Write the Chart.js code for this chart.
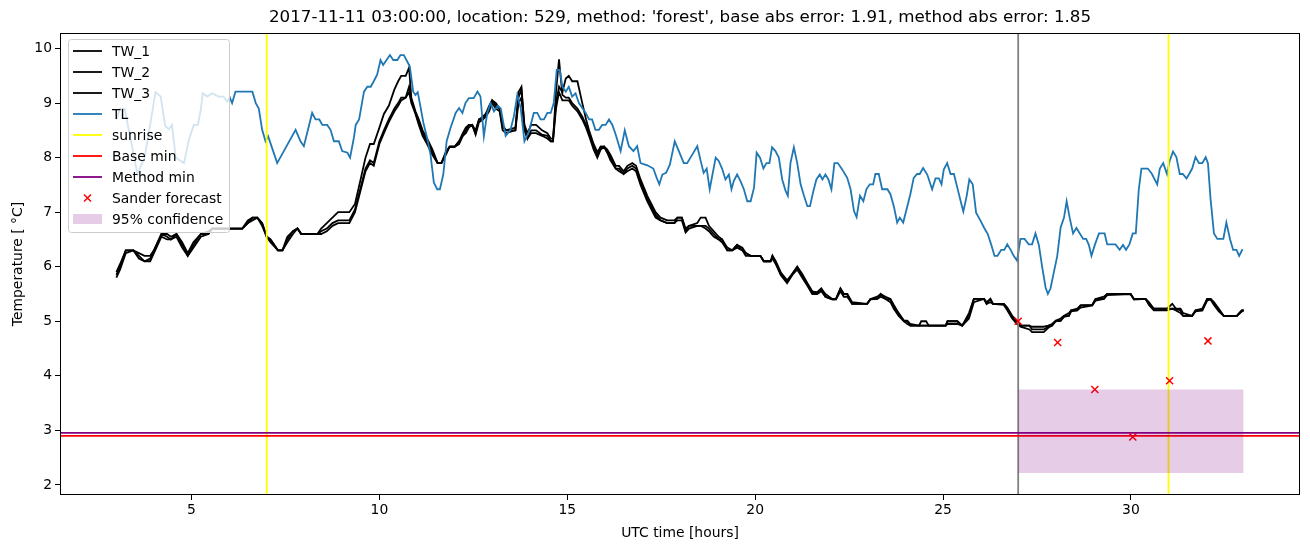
<!DOCTYPE html>
<html>
<head>
<meta charset="utf-8">
<script src="https://cdn.jsdelivr.net/npm/chart.js@4.4.1/dist/chart.umd.min.js"></script>
<style>
  html, body { margin: 0; padding: 0; background: #fff; }
  #wrap { width: 1310px; height: 547px; }
</style>
</head>
<body>
<div id="wrap"><canvas id="chart" width="1310" height="547"></canvas></div>
<script>
// ---- data: [hour, temperature] ----
const titleText = "2017-11-11 03:00:00, location: 529, method: 'forest', base abs error: 1.91, method abs error: 1.85";
const xTicks = [5, 10, 15, 20, 25, 30];
const yTicks = [2, 3, 4, 5, 6, 7, 8, 9, 10];

const tw1 = [[3.0,5.85],[3.1,6.0],[3.25,6.3],[3.45,6.3],[3.6,6.2],[3.75,6.1],[3.9,6.15],[4.0,6.3],[4.2,6.6],[4.35,6.55],[4.45,6.5],[4.6,6.6],[4.75,6.4],[4.9,6.2],[5.05,6.4],[5.25,6.6],[5.45,6.6],[5.55,6.7],[6.35,6.7],[6.5,6.8],[6.62,6.9],[6.75,6.9],[6.88,6.8],[7.0,6.55],[7.1,6.5],[7.3,6.3],[7.42,6.3],[7.55,6.5],[7.7,6.65],[7.82,6.7],[7.92,6.6],[8.35,6.6],[8.45,6.65],[8.6,6.7],[8.75,6.8],[8.9,6.85],[9.2,6.85],[9.35,7.05],[9.5,7.45],[9.63,7.8],[9.75,7.95],[9.85,7.9],[10.0,8.3],[10.12,8.5],[10.25,8.7],[10.4,8.9],[10.5,9.0],[10.58,9.1],[10.7,9.1],[10.79,9.3],[10.85,9.05],[10.96,8.82],[11.05,8.65],[11.15,8.45],[11.27,8.3],[11.41,8.1],[11.55,7.9],[11.65,7.9],[11.77,8.1],[11.87,8.2],[12.0,8.2],[12.12,8.3],[12.22,8.4],[12.3,8.5],[12.38,8.6],[12.47,8.6],[12.56,8.45],[12.65,8.7],[12.75,8.7],[12.83,8.8],[12.92,8.9],[13.0,9.05],[13.1,8.95],[13.2,8.9],[13.28,8.55],[13.37,8.5],[13.62,8.5],[13.7,9.2],[13.78,9.3],[13.86,8.55],[13.94,8.35],[14.04,8.5],[14.17,8.5],[14.33,8.42],[14.47,8.4],[14.56,8.3],[14.62,8.3],[14.7,9.2],[14.78,9.8],[14.87,9.15],[14.96,9.1],[15.04,9.1],[15.13,9.0],[15.27,8.9],[15.4,8.75],[15.5,8.6],[15.58,8.45],[15.7,8.2],[15.8,8.05],[15.89,8.2],[15.98,8.2],[16.06,8.1],[16.15,8.0],[16.29,7.8],[16.38,7.8],[16.5,7.7],[16.6,7.8],[16.73,7.85],[16.83,7.8],[16.95,7.55],[17.13,7.25],[17.35,6.95],[17.48,6.85],[17.66,6.8],[17.85,6.8],[17.93,6.9],[18.05,6.9],[18.15,6.65],[18.24,6.75],[18.46,6.75],[18.55,6.75],[18.68,6.75],[18.77,6.7],[18.9,6.6],[19.03,6.5],[19.12,6.5],[19.26,6.3],[19.39,6.3],[19.52,6.4],[19.66,6.3],[19.75,6.25],[19.88,6.2],[20.14,6.2],[20.23,6.1],[20.41,6.1],[20.46,6.2],[20.55,6.05],[20.68,5.87],[20.85,5.72],[20.99,5.87],[21.12,6.0],[21.25,5.84],[21.39,5.69],[21.52,5.53],[21.65,5.53],[21.76,5.6],[21.87,5.45],[22.05,5.4],[22.15,5.4],[22.27,5.6],[22.36,5.5],[22.45,5.5],[22.58,5.32],[22.98,5.32],[23.07,5.41],[23.25,5.41],[23.34,5.5],[23.47,5.41],[23.6,5.4],[23.69,5.26],[23.82,5.14],[23.96,5.01],[24.05,5.0],[24.13,4.92],[24.36,4.92],[24.42,4.92],[24.55,4.92],[24.62,4.92],[25.07,4.92],[25.12,5.0],[25.38,5.0],[25.51,4.92],[25.69,5.1],[25.82,5.41],[26.09,5.41],[26.16,5.32],[26.26,5.41],[26.33,5.32],[26.62,5.32],[26.71,5.23],[26.84,5.08],[26.97,4.99],[27.06,4.92],[27.3,4.92],[27.37,4.85],[27.68,4.85],[27.8,4.9],[27.9,4.92],[28.0,5.01],[28.13,5.01],[28.22,5.1],[28.35,5.1],[28.41,5.2],[28.57,5.2],[28.66,5.29],[28.97,5.29],[29.06,5.41],[29.28,5.41],[29.37,5.5],[29.99,5.5],[30.08,5.41],[30.39,5.41],[30.48,5.32],[30.61,5.23],[30.96,5.23],[31.1,5.32],[31.2,5.23],[31.32,5.2],[31.39,5.1],[31.63,5.1],[31.72,5.2],[31.9,5.2],[32.03,5.41],[32.12,5.41],[32.21,5.32],[32.34,5.2],[32.47,5.1],[32.82,5.1],[32.95,5.2],[33.0,5.2]];

const tw2 = [[3.0,5.9],[3.1,6.05],[3.25,6.3],[3.45,6.3],[3.6,6.25],[3.75,6.2],[3.9,6.2],[4.0,6.3],[4.2,6.6],[4.35,6.6],[4.45,6.55],[4.6,6.6],[4.75,6.45],[4.9,6.25],[5.05,6.45],[5.25,6.6],[5.45,6.65],[5.55,6.7],[6.35,6.7],[6.5,6.85],[6.62,6.9],[6.75,6.9],[6.88,6.8],[7.0,6.55],[7.1,6.5],[7.3,6.3],[7.42,6.3],[7.55,6.55],[7.7,6.65],[7.82,6.7],[7.92,6.6],[8.35,6.6],[8.45,6.7],[8.6,6.8],[8.75,6.9],[8.9,7.0],[9.2,7.0],[9.35,7.15],[9.5,7.6],[9.63,8.0],[9.75,8.25],[9.85,8.25],[10.0,8.55],[10.12,8.8],[10.25,8.95],[10.4,9.25],[10.5,9.4],[10.58,9.5],[10.7,9.5],[10.79,9.65],[10.85,9.1],[10.96,8.85],[11.05,8.7],[11.15,8.5],[11.27,8.35],[11.41,8.15],[11.55,7.9],[11.65,7.9],[11.77,8.1],[11.87,8.2],[12.0,8.2],[12.12,8.3],[12.22,8.45],[12.3,8.55],[12.38,8.6],[12.47,8.6],[12.56,8.5],[12.65,8.7],[12.75,8.75],[12.83,8.8],[12.92,8.95],[13.0,9.05],[13.1,9.0],[13.2,8.9],[13.28,8.6],[13.37,8.5],[13.62,8.55],[13.7,9.1],[13.78,9.25],[13.86,8.6],[13.94,8.45],[14.04,8.6],[14.17,8.6],[14.33,8.5],[14.47,8.45],[14.56,8.35],[14.62,8.35],[14.7,9.0],[14.78,9.3],[14.87,9.2],[14.96,9.45],[15.04,9.5],[15.13,9.4],[15.27,9.4],[15.4,9.0],[15.5,8.7],[15.58,8.5],[15.7,8.25],[15.8,8.1],[15.89,8.2],[15.98,8.2],[16.06,8.15],[16.15,8.05],[16.29,7.85],[16.38,7.85],[16.5,7.75],[16.6,7.85],[16.73,7.9],[16.83,7.85],[16.95,7.6],[17.13,7.3],[17.35,7.0],[17.48,6.9],[17.66,6.85],[17.85,6.85],[17.93,6.9],[18.05,6.9],[18.15,6.7],[18.24,6.75],[18.46,6.8],[18.55,6.9],[18.68,6.9],[18.77,6.75],[18.9,6.65],[19.03,6.55],[19.12,6.5],[19.26,6.35],[19.39,6.3],[19.52,6.4],[19.66,6.35],[19.75,6.25],[19.88,6.2],[20.14,6.2],[20.23,6.1],[20.41,6.1],[20.46,6.2],[20.55,6.1],[20.68,5.9],[20.85,5.75],[20.99,5.87],[21.12,6.0],[21.25,5.87],[21.39,5.7],[21.52,5.55],[21.65,5.53],[21.76,5.6],[21.87,5.5],[22.05,5.41],[22.15,5.41],[22.27,5.6],[22.36,5.5],[22.45,5.5],[22.58,5.35],[22.98,5.32],[23.07,5.41],[23.25,5.45],[23.34,5.5],[23.47,5.45],[23.6,5.41],[23.69,5.3],[23.82,5.15],[23.96,5.01],[24.05,5.01],[24.13,4.95],[24.36,4.92],[24.42,5.0],[24.55,5.0],[24.62,4.92],[25.07,4.92],[25.12,5.0],[25.38,5.0],[25.51,4.92],[25.69,5.15],[25.82,5.41],[26.09,5.41],[26.16,5.35],[26.26,5.41],[26.33,5.32],[26.62,5.32],[26.71,5.25],[26.84,5.1],[26.97,5.0],[27.06,4.92],[27.3,4.92],[27.37,4.9],[27.68,4.9],[27.8,4.92],[27.9,4.95],[28.0,5.01],[28.13,5.05],[28.22,5.1],[28.35,5.15],[28.41,5.2],[28.57,5.23],[28.66,5.29],[28.97,5.3],[29.06,5.41],[29.28,5.45],[29.37,5.5],[29.99,5.5],[30.08,5.41],[30.39,5.41],[30.48,5.35],[30.61,5.23],[30.96,5.23],[31.1,5.23],[31.2,5.23],[31.32,5.23],[31.39,5.15],[31.63,5.1],[31.72,5.2],[31.9,5.23],[32.03,5.41],[32.12,5.41],[32.21,5.35],[32.34,5.23],[32.47,5.1],[32.82,5.1],[32.95,5.2],[33.0,5.2]];

const tw3 = [[3.0,5.8],[3.1,5.95],[3.25,6.25],[3.45,6.3],[3.6,6.15],[3.75,6.1],[3.9,6.1],[4.0,6.25],[4.2,6.55],[4.35,6.5],[4.45,6.5],[4.6,6.55],[4.75,6.35],[4.9,6.2],[5.05,6.35],[5.25,6.55],[5.45,6.6],[5.55,6.7],[6.35,6.7],[6.5,6.8],[6.62,6.85],[6.75,6.9],[6.88,6.75],[7.0,6.55],[7.1,6.45],[7.3,6.3],[7.42,6.3],[7.55,6.45],[7.7,6.6],[7.82,6.7],[7.92,6.6],[8.35,6.6],[8.45,6.6],[8.6,6.65],[8.75,6.75],[8.9,6.8],[9.2,6.8],[9.35,7.0],[9.5,7.4],[9.63,7.75],[9.75,7.9],[9.85,7.85],[10.0,8.25],[10.12,8.45],[10.25,8.65],[10.4,8.85],[10.5,8.95],[10.58,9.05],[10.7,9.1],[10.79,9.2],[10.85,9.0],[10.96,8.8],[11.05,8.6],[11.15,8.4],[11.27,8.25],[11.41,8.05],[11.55,7.9],[11.65,7.9],[11.77,8.05],[11.87,8.2],[12.0,8.2],[12.12,8.25],[12.22,8.4],[12.3,8.45],[12.38,8.55],[12.47,8.6],[12.56,8.42],[12.65,8.65],[12.75,8.7],[12.83,8.75],[12.92,8.85],[13.0,9.0],[13.1,8.9],[13.2,8.85],[13.28,8.5],[13.37,8.45],[13.62,8.5],[13.7,9.0],[13.78,9.1],[13.86,8.5],[13.94,8.35],[14.04,8.45],[14.17,8.45],[14.33,8.4],[14.47,8.35],[14.56,8.3],[14.62,8.3],[14.7,8.9],[14.78,9.2],[14.87,9.05],[14.96,9.05],[15.04,9.05],[15.13,8.95],[15.27,8.85],[15.4,8.7],[15.5,8.55],[15.58,8.4],[15.7,8.15],[15.8,8.0],[15.89,8.15],[15.98,8.2],[16.06,8.1],[16.15,7.95],[16.29,7.8],[16.38,7.75],[16.5,7.7],[16.6,7.75],[16.73,7.8],[16.83,7.75],[16.95,7.5],[17.13,7.2],[17.35,6.9],[17.48,6.85],[17.66,6.8],[17.85,6.8],[17.93,6.85],[18.05,6.85],[18.15,6.63],[18.24,6.7],[18.46,6.75],[18.55,6.75],[18.68,6.7],[18.77,6.65],[18.9,6.55],[19.03,6.5],[19.12,6.45],[19.26,6.3],[19.39,6.3],[19.52,6.35],[19.66,6.3],[19.75,6.2],[19.88,6.2],[20.14,6.2],[20.23,6.1],[20.41,6.1],[20.46,6.15],[20.55,6.05],[20.68,5.85],[20.85,5.7],[20.99,5.85],[21.12,5.95],[21.25,5.8],[21.39,5.65],[21.52,5.5],[21.65,5.5],[21.76,5.55],[21.87,5.45],[22.05,5.4],[22.15,5.4],[22.27,5.55],[22.36,5.45],[22.45,5.45],[22.58,5.32],[22.98,5.32],[23.07,5.4],[23.25,5.41],[23.34,5.45],[23.47,5.41],[23.6,5.35],[23.69,5.23],[23.82,5.1],[23.96,5.0],[24.05,4.95],[24.13,4.92],[24.36,4.92],[24.42,4.92],[24.55,4.92],[24.62,4.92],[25.07,4.92],[25.12,4.95],[25.38,4.95],[25.51,4.92],[25.69,5.05],[25.82,5.35],[26.09,5.41],[26.16,5.32],[26.26,5.35],[26.33,5.32],[26.62,5.3],[26.71,5.2],[26.84,5.05],[26.97,4.95],[27.06,4.9],[27.3,4.85],[27.37,4.8],[27.68,4.8],[27.8,4.88],[27.9,4.92],[28.0,5.0],[28.13,5.01],[28.22,5.08],[28.35,5.1],[28.41,5.18],[28.57,5.2],[28.66,5.25],[28.97,5.29],[29.06,5.38],[29.28,5.41],[29.37,5.48],[29.99,5.5],[30.08,5.4],[30.39,5.41],[30.48,5.3],[30.61,5.2],[30.96,5.2],[31.1,5.23],[31.2,5.2],[31.32,5.15],[31.39,5.1],[31.63,5.1],[31.72,5.18],[31.9,5.2],[32.03,5.38],[32.12,5.4],[32.21,5.3],[32.34,5.18],[32.47,5.1],[32.82,5.1],[32.95,5.18],[33.0,5.2]];

const tl = [[3.0,8.7],[3.1,8.9],[3.22,8.9],[3.56,7.7],[3.75,8.0],[3.9,8.6],[4.04,9.2],[4.18,9.12],[4.3,8.58],[4.4,8.52],[4.48,8.6],[4.58,8.0],[4.8,7.9],[4.92,8.3],[5.06,8.6],[5.17,8.6],[5.24,8.85],[5.3,9.18],[5.42,9.12],[5.55,9.18],[5.72,9.12],[5.85,9.12],[5.95,9.03],[6.02,9.1],[6.08,9.0],[6.17,9.21],[6.62,9.21],[6.71,9.0],[6.79,8.9],[6.88,8.51],[6.97,8.3],[7.04,8.39],[7.28,7.9],[7.77,8.51],[7.9,8.3],[7.99,8.21],[8.21,8.82],[8.3,8.7],[8.4,8.7],[8.48,8.6],[8.61,8.6],[8.7,8.51],[8.79,8.3],[8.92,8.3],[9.01,8.12],[9.15,8.09],[9.22,8.0],[9.32,8.36],[9.37,8.6],[9.46,8.7],[9.59,9.21],[9.68,9.3],[9.77,9.3],[9.85,9.4],[9.94,9.52],[10.03,9.79],[10.1,9.7],[10.19,9.79],[10.28,9.88],[10.37,9.79],[10.48,9.79],[10.56,9.88],[10.65,9.88],[10.72,9.79],[10.81,9.67],[10.9,9.21],[10.96,9.15],[11.02,9.2],[11.1,8.91],[11.17,8.64],[11.27,8.36],[11.36,8.06],[11.45,7.54],[11.54,7.42],[11.61,7.42],[11.7,7.69],[11.79,8.3],[11.89,8.54],[12.03,8.82],[12.12,8.91],[12.21,8.82],[12.29,9.0],[12.38,9.09],[12.51,9.09],[12.61,9.21],[12.69,9.12],[12.78,8.39],[12.87,8.82],[12.96,9.0],[13.05,8.85],[13.15,8.95],[13.23,8.9],[13.36,8.4],[13.49,8.51],[13.58,8.76],[13.67,9.15],[13.76,8.91],[13.86,8.3],[13.98,8.48],[14.11,8.82],[14.2,8.82],[14.29,8.7],[14.38,8.7],[14.47,8.82],[14.56,8.82],[14.64,9.0],[14.72,9.61],[14.8,9.61],[14.87,9.3],[14.96,9.21],[15.04,9.3],[15.13,9.12],[15.22,9.18],[15.31,9.0],[15.4,8.91],[15.49,8.82],[15.58,8.7],[15.66,8.7],[15.75,8.51],[15.84,8.51],[15.93,8.6],[16.02,8.6],[16.11,8.7],[16.2,8.6],[16.29,8.42],[16.42,8.12],[16.53,8.5],[16.64,8.21],[16.76,8.12],[16.86,8.21],[16.95,7.9],[17.13,7.86],[17.29,7.8],[17.38,7.63],[17.45,7.51],[17.53,7.69],[17.63,7.72],[17.73,7.87],[17.86,8.3],[17.97,8.12],[18.1,7.9],[18.19,7.9],[18.33,8.06],[18.46,8.21],[18.55,7.94],[18.63,7.72],[18.71,7.8],[18.79,7.42],[18.95,8.0],[19.03,7.94],[19.12,7.8],[19.21,7.6],[19.3,7.69],[19.37,7.42],[19.43,7.57],[19.52,7.69],[19.61,7.57],[19.7,7.42],[19.79,7.2],[19.88,7.2],[19.97,7.45],[20.04,8.09],[20.13,8.0],[20.22,7.8],[20.3,7.9],[20.38,7.9],[20.45,8.19],[20.54,8.12],[20.63,8.0],[20.72,7.6],[20.81,7.39],[20.87,7.3],[20.94,7.9],[21.03,8.19],[21.12,7.9],[21.21,7.51],[21.3,7.3],[21.39,7.11],[21.46,7.11],[21.55,7.39],[21.63,7.6],[21.72,7.69],[21.79,7.6],[21.87,7.69],[21.95,7.6],[22.03,7.42],[22.11,7.9],[22.2,7.9],[22.32,7.78],[22.45,7.63],[22.54,7.42],[22.63,7.02],[22.7,6.91],[22.79,7.3],[22.88,7.2],[22.96,7.42],[23.05,7.51],[23.14,7.51],[23.2,7.7],[23.29,7.7],[23.38,7.42],[23.52,7.42],[23.6,7.33],[23.69,7.11],[23.78,6.81],[23.85,6.9],[23.94,6.81],[24.05,7.11],[24.13,7.33],[24.22,7.63],[24.31,7.7],[24.38,7.7],[24.47,7.81],[24.58,7.69],[24.71,7.42],[24.8,7.62],[24.89,7.62],[24.96,7.51],[25.02,7.78],[25.11,7.9],[25.2,7.7],[25.29,7.7],[25.38,7.45],[25.47,7.2],[25.54,7.01],[25.63,7.3],[25.7,7.6],[25.79,7.51],[25.88,6.99],[26.0,6.84],[26.09,6.72],[26.19,6.6],[26.28,6.41],[26.37,6.2],[26.45,6.2],[26.55,6.31],[26.63,6.31],[26.71,6.41],[26.8,6.31],[26.88,6.2],[26.97,6.11],[27.06,6.51],[27.17,6.51],[27.28,6.41],[27.37,6.41],[27.46,6.61],[27.55,6.4],[27.64,5.99],[27.73,5.62],[27.79,5.5],[27.86,5.6],[27.95,5.9],[28.04,6.2],[28.13,6.72],[28.22,6.9],[28.29,7.2],[28.37,6.9],[28.46,6.61],[28.55,6.71],[28.64,6.61],[28.73,6.51],[28.81,6.51],[28.88,6.4],[28.95,6.2],[29.04,6.4],[29.15,6.61],[29.3,6.61],[29.37,6.41],[29.59,6.41],[29.7,6.31],[29.79,6.4],[29.87,6.31],[29.96,6.41],[30.05,6.61],[30.13,6.61],[30.21,7.42],[30.28,7.8],[30.45,7.8],[30.56,7.7],[30.7,7.51],[30.77,7.8],[30.86,7.9],[30.96,7.7],[31.03,7.94],[31.12,8.11],[31.21,8.01],[31.3,7.7],[31.38,7.7],[31.48,7.62],[31.55,7.7],[31.63,7.8],[31.72,8.01],[31.81,7.9],[31.9,7.9],[31.99,8.01],[32.05,7.9],[32.12,7.24],[32.21,6.61],[32.3,6.51],[32.46,6.51],[32.54,6.81],[32.64,6.5],[32.72,6.31],[32.81,6.31],[32.88,6.2],[32.97,6.32]];

const sanderForecast = [[27.0,5.0],[28.05,4.61],[29.04,3.75],[30.05,2.88],[31.03,3.91],[32.05,4.64]];
const sunriseHours = [7.0, 31.0];
const forecastStart = 27.0;
const baseMin = 2.90;
const methodMin = 2.955;
const confStart = 27.0, confEnd = 33.0, confLow = 2.22, confHigh = 3.75;

const xMin = 1.5, xMax = 34.5, yMin = 1.815, yMax = 10.285;

const FONT = '"DejaVu Sans", sans-serif';
const pts = arr => arr.map(([x, y]) => ({x: x, y: y}));

function vline(hours) {
    const out = [];
    hours.forEach((h, i) => {
        if (i > 0) out.push({x: h, y: null});
        out.push({x: h, y: yMin}, {x: h, y: yMax});
    });
    return out;
}

const datasets = [
    {label: 'TW_1', data: pts(tw1), borderColor: '#000', borderWidth: 1.8, order: 9, kind: 'line'},
    {label: 'TW_2', data: pts(tw2), borderColor: '#000', borderWidth: 1.8, order: 8, kind: 'line'},
    {label: 'TW_3', data: pts(tw3), borderColor: '#000', borderWidth: 1.8, order: 7, kind: 'line'},
    {label: 'TL', data: pts(tl), borderColor: '#1f77b4', borderWidth: 1.8, order: 6, kind: 'line'},
    {label: 'sunrise', data: vline(sunriseHours), borderColor: '#ffff00', borderWidth: 1.8, order: 5, kind: 'line', spanGaps: false},
    {label: '', data: vline([forecastStart]), borderColor: '#808080', borderWidth: 1.8, order: 5, kind: 'none'},
    {label: 'Base min', data: pts([[xMin, baseMin], [xMax, baseMin]]), borderColor: '#ff0000', borderWidth: 1.8, order: 4, kind: 'line'},
    {label: 'Method min', data: pts([[xMin, methodMin], [xMax, methodMin]]), borderColor: '#800080', borderWidth: 1.8, order: 3, kind: 'line'},
    {label: 'Sander forecast', data: pts(sanderForecast), showLine: false, pointStyle: 'crossRot', pointRadius: 5,
     pointBorderColor: '#ff0000', pointBorderWidth: 1.5, borderColor: '#ff0000', order: 2, kind: 'marker'},
    {label: '95% confidence', data: pts([[confStart, confHigh], [confEnd, confHigh]]), borderWidth: 0, borderColor: 'rgba(0,0,0,0)',
     backgroundColor: 'rgba(128,0,128,0.2)', fill: {value: confLow}, order: 1, kind: 'patch'}
];

// title centred over the axes, like matplotlib
const titlePlugin = {
    id: 'axTitle',
    afterDraw(chart) {
        const {ctx, chartArea} = chart;
        ctx.save();
        ctx.font = '16.7px ' + FONT;
        ctx.fillStyle = '#000';
        ctx.textAlign = 'center';
        ctx.textBaseline = 'middle';
        ctx.fillText(titleText, (chartArea.left + chartArea.right) / 2, 18);
        ctx.restore();
    }
};

// four spines
const framePlugin = {
    id: 'frame',
    afterDatasetsDraw(chart) {
        const {ctx, chartArea: a} = chart;
        ctx.save();
        ctx.strokeStyle = '#000';
        ctx.lineWidth = 1;
        ctx.strokeRect(a.left + 0.5, a.top + 0.5, a.right - a.left - 1, a.bottom - a.top - 1);
        ctx.restore();
    }
};

// matplotlib-like legend inside the axes, upper left
const legendPlugin = {
    id: 'mplLegend',
    afterDatasetsDraw(chart) {
        const {ctx, chartArea: a} = chart;
        const items = chart.data.datasets.filter(d => d.kind !== 'none');
        const x0 = a.left + 8, y0 = a.top + 6, w = 161, rowH = 21;
        const h = items.length * rowH + 4;
        ctx.save();
        ctx.beginPath();
        if (ctx.roundRect) ctx.roundRect(x0 + 0.5, y0 + 0.5, w, h, 3); else ctx.rect(x0 + 0.5, y0 + 0.5, w, h);
        ctx.fillStyle = 'rgba(255,255,255,0.8)';
        ctx.fill();
        ctx.strokeStyle = '#cccccc';
        ctx.lineWidth = 1;
        ctx.stroke();
        ctx.font = '13.9px ' + FONT;
        ctx.textBaseline = 'middle';
        ctx.textAlign = 'left';
        items.forEach((d, i) => {
            const cy = y0 + 12 + i * rowH;
            const hx0 = x0 + 5, hx1 = x0 + 34;
            if (d.kind === 'line') {
                ctx.strokeStyle = d.borderColor;
                ctx.lineWidth = 1.8;
                ctx.beginPath(); ctx.moveTo(hx0, cy); ctx.lineTo(hx1, cy); ctx.stroke();
            } else if (d.kind === 'marker') {
                const cx = (hx0 + hx1) / 2, r = 3.5;
                ctx.strokeStyle = d.pointBorderColor;
                ctx.lineWidth = 1.5;
                ctx.beginPath();
                ctx.moveTo(cx - r, cy - r); ctx.lineTo(cx + r, cy + r);
                ctx.moveTo(cx + r, cy - r); ctx.lineTo(cx - r, cy + r);
                ctx.stroke();
            } else if (d.kind === 'patch') {
                ctx.fillStyle = d.backgroundColor;
                ctx.fillRect(hx0, cy - 5, hx1 - hx0, 10);
            }
            ctx.fillStyle = '#000';
            ctx.fillText(d.label, x0 + 44, cy + 1);
        });
        ctx.restore();
    }
};

new Chart(document.getElementById('chart'), {
    type: 'line',
    data: {datasets: datasets},
    options: {
        responsive: false,
        animation: false,
        parsing: true,
        elements: {point: {radius: 0}, line: {tension: 0}},
        layout: {padding: {top: 33, right: 10, left: 0, bottom: 0}},
        plugins: {legend: {display: false}, tooltip: {enabled: false}, title: {display: false}},
        scales: {
            x: {
                type: 'linear', min: xMin, max: xMax,
                afterBuildTicks: s => { s.ticks = xTicks.map(v => ({value: v})); },
                afterFit: s => { s.height = 52; },
                grid: {drawOnChartArea: false, drawTicks: true, tickLength: 5, color: '#000'},
                border: {display: false},
                ticks: {color: '#000', font: {family: FONT, size: 13.9}, padding: 2, maxRotation: 0},
                title: {display: true, text: 'UTC time [hours]', color: '#000', font: {family: FONT, size: 13.9}, padding: {top: 2, bottom: 5}}
            },
            y: {
                type: 'linear', min: yMin, max: yMax,
                afterBuildTicks: s => { s.ticks = yTicks.map(v => ({value: v})); },
                afterFit: s => { s.width = 60; },
                grid: {drawOnChartArea: false, drawTicks: true, tickLength: 5, color: '#000'},
                border: {display: false},
                ticks: {color: '#000', font: {family: FONT, size: 13.9}, padding: 3},
                title: {display: true, text: 'Temperature [ °C]', color: '#000', font: {family: FONT, size: 13.9}, padding: {top: 10, bottom: 0}}
            }
        }
    },
    plugins: [titlePlugin, framePlugin, legendPlugin]
});
</script>
</body>
</html>
